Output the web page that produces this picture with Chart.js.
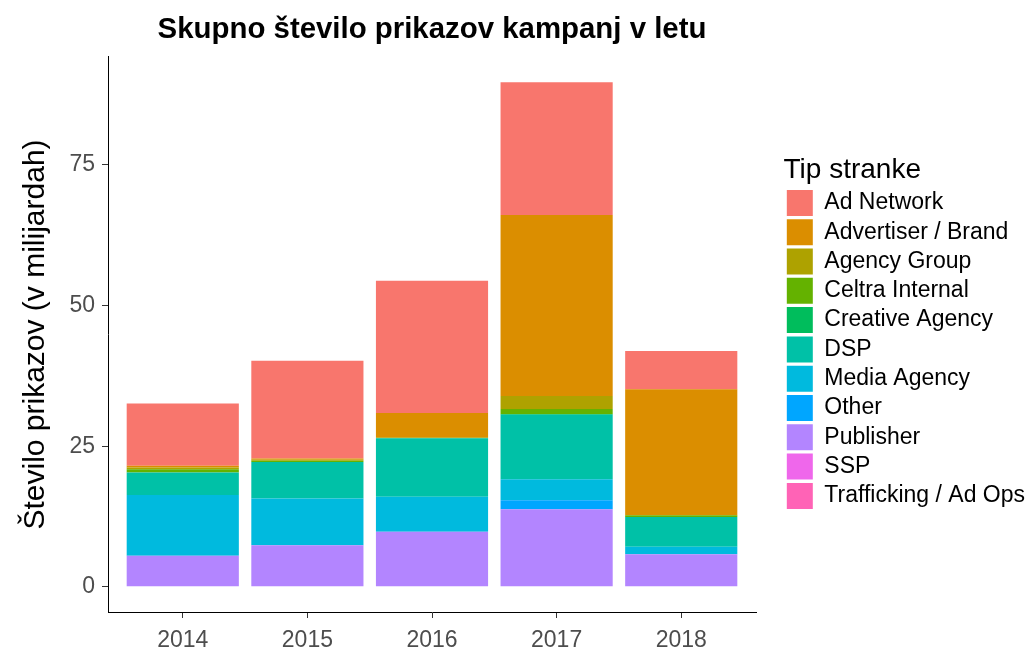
<!DOCTYPE html>
<html>
<head>
<meta charset="utf-8">
<script src="https://cdn.jsdelivr.net/npm/chart.js@4.4.1/dist/chart.umd.min.js"></script>
<style>
  html, body { margin: 0; padding: 0; background: #fff; }
  #wrap { width: 1035px; height: 650px; }
</style>
</head>
<body>
<div id="wrap"><canvas id="chart"></canvas></div>
<script>
// data (billions of impressions)
var years = ['2014', '2015', '2016', '2017', '2018'];
var yTicks = [0, 25, 50, 75];

var adNetwork   = [11.1, 17.4, 23.5, 23.6, 6.8];
var advertiser  = [0.3, 0.2, 4.4, 32.2, 22.4];
var agencyGroup = [0.3, 0.2, 0, 2.3, 0];
var celtra      = [0.6, 0.2, 0.1, 0.9, 0.3];
var creative    = [0, 0, 0, 0.1, 0];
var dsp         = [4.0, 6.5, 10.4, 11.5, 5.3];
var media       = [10.8, 8.3, 6.2, 3.7, 1.3];
var other       = [0, 0, 0, 1.6, 0];
var publisher   = [5.5, 7.4, 9.8, 13.8, 5.8];
var ssp         = [0, 0, 0, 0, 0];
var trafficking = [0, 0, 0, 0, 0];

var seriesNames = ['Ad Network', 'Advertiser / Brand', 'Agency Group', 'Celtra Internal',
    'Creative Agency', 'DSP', 'Media Agency', 'Other', 'Publisher', 'SSP', 'Trafficking / Ad Ops'];
var seriesValues = [adNetwork, advertiser, agencyGroup, celtra, creative, dsp, media,
    other, publisher, ssp, trafficking];
var seriesColors = ['#F8766D', '#DB8E00', '#AEA200', '#64B200', '#00BD5C', '#00C1A7',
    '#00BADE', '#00A6FF', '#B385FF', '#EF67EB', '#FF63B6'];

Chart.defaults.font.family = "'Liberation Sans', Arial, sans-serif";

// ggplot stacks the first level on top, chart.js stacks the first dataset at the bottom
var datasets = [];
for (var i = seriesNames.length - 1; i >= 0; i--) {
    datasets.push({
        label: seriesNames[i],
        data: seriesValues[i].map(function (v, j) { return {x: j + 1, y: v}; }),
        backgroundColor: seriesColors[i],
        borderWidth: 0,
        categoryPercentage: 1,
        barPercentage: 0.9
    });
}

var ctx = document.getElementById('chart').getContext('2d');
var chart = new Chart(ctx, {
    type: 'bar',
    data: { datasets: datasets },
    options: {
        responsive: true,
        maintainAspectRatio: false,
        animation: false,
        layout: { padding: { left: 0, right: 0, top: 0, bottom: 2 } },
        plugins: {
            tooltip: { enabled: false },
            title: {
                display: true,
                text: 'Skupno število prikazov kampanj v letu',
                color: '#000',
                fullSize: false,
                font: { size: 29.4, weight: 'bold' },
                padding: { top: 12.4, bottom: 9.3 }
            },
            legend: {
                position: 'right',
                align: 'start',
                fullSize: false,
                reverse: true,
                maxWidth: 300,
                title: {
                    display: true,
                    text: 'Tip stranke',
                    position: 'start',
                    color: '#000',
                    font: { size: 28 },
                    padding: { top: 99, bottom: -3 }
                },
                labels: {
                    color: '#000',
                    font: { size: 23 },
                    boxWidth: 26,
                    boxHeight: 26,
                    padding: 3.3
                }
            }
        },
        scales: {
            x: {
                type: 'linear',
                stacked: true,
                offset: false,
                min: 0.4,
                max: 5.6,
                afterBuildTicks: function (s) {
                    s.ticks = years.map(function (y, i) { return {value: i + 1}; });
                },
                afterFit: function (s) { s.height = 36; },
                ticks: {
                    color: '#4d4d4d',
                    font: { size: 23 },
                    padding: 9,
                    callback: function (v) { return years[v - 1]; }
                },
                grid: { drawOnChartArea: false, offset: false, color: '#333', tickLength: 6 },
                border: { color: '#000', width: 1 }
            },
            y: {
                type: 'linear',
                stacked: true,
                min: -4.485,
                max: 94.2,
                afterBuildTicks: function (s) {
                    s.ticks = yTicks.map(function (v) { return {value: v}; });
                },
                afterFit: function (s) { s.width = 108; },
                ticks: { color: '#4d4d4d', font: { size: 23 }, padding: 7 },
                grid: { drawOnChartArea: false, color: '#333', tickLength: 6 },
                border: { color: '#000', width: 1 },
                title: {
                    display: true,
                    text: 'Število prikazov (v milijardah)',
                    color: '#000',
                    font: { size: 30 },
                    padding: { top: 18, bottom: 0 }
                }
            },
            // empty axis, only keeps a gap between the panel and the legend
            gap: {
                type: 'linear',
                position: 'right',
                display: true,
                grid: { display: false },
                border: { display: false },
                ticks: { display: false },
                afterFit: function (s) { s.width = 27.5; }
            }
        }
    }
});
</script>
</body>
</html>
